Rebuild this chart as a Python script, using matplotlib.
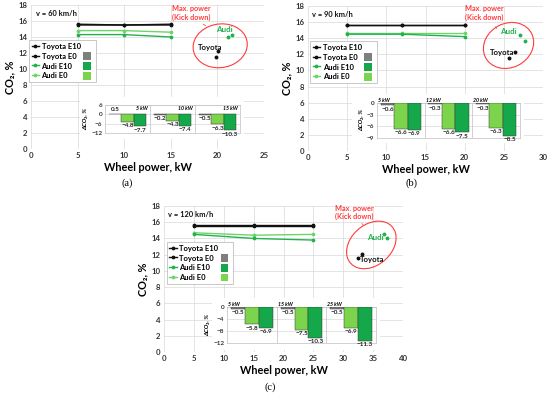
import matplotlib
matplotlib.use("Agg")
import matplotlib.pyplot as plt
from matplotlib.lines import Line2D
from matplotlib.patches import Ellipse, Patch, Rectangle

plt.rcParams["font.family"] = ["Lato", "DejaVu Sans"]

BLACK = "#111111"
GRAY_BAR = "#7F7F7F"
GREEN_E10 = "#14A84A"
GREEN_E0 = "#7CD44C"
LINE_E10 = "#22B24C"
LINE_E0 = "#6FD36A"
RED = "#FF3B3B"
GRID = "#D9D9D9"
TICK = "#333333"

# ---- panel (a): v = 60 km/h ----
A_POWER = [5, 10, 15]
A_TOYOTA_E10 = [15.5, 15.5, 15.6]
A_TOYOTA_E0 = [15.6, 15.5, 15.5]
A_AUDI_E10 = [14.3, 14.3, 14.0]
A_AUDI_E0 = [14.8, 14.8, 14.6]
A_MAX_TOYOTA_X = [20.1, 19.8]
A_MAX_TOYOTA_Y = [12.2, 11.5]
A_MAX_AUDI_X = [21.1, 21.6]
A_MAX_AUDI_Y = [14.0, 14.3]
A_GROUPS = ["5 kW", "10 kW", "15 kW"]
A_D_TOYOTA = [0.5, -0.2, -0.5]
A_D_AUDI_E0 = [-4.8, -4.3, -6.3]
A_D_AUDI_E10 = [-7.7, -7.4, -10.3]

# ---- panel (b): v = 90 km/h ----
B_POWER = [5, 12, 20]
B_TOYOTA_E10 = [15.6, 15.6, 15.6]
B_TOYOTA_E0 = [15.6, 15.6, 15.6]
B_AUDI_E10 = [14.5, 14.5, 14.2]
B_AUDI_E0 = [14.6, 14.6, 14.6]
B_MAX_TOYOTA_X = [26.4, 25.7]
B_MAX_TOYOTA_Y = [12.3, 11.6]
B_MAX_AUDI_X = [27.0, 27.7]
B_MAX_AUDI_Y = [14.4, 13.6]
B_GROUPS = ["5 kW", "12 kW", "20 kW"]
B_D_TOYOTA = [-0.6, -0.3, -0.3]
B_D_AUDI_E0 = [-6.6, -6.6, -6.3]
B_D_AUDI_E10 = [-6.9, -7.5, -8.5]

# ---- panel (c): v = 120 km/h ----
C_POWER = [5, 15, 25]
C_TOYOTA_E10 = [15.5, 15.5, 15.5]
C_TOYOTA_E0 = [15.6, 15.6, 15.6]
C_AUDI_E10 = [14.5, 14.0, 13.8]
C_AUDI_E0 = [14.7, 14.4, 14.5]
C_MAX_TOYOTA_X = [33.2, 32.4]
C_MAX_TOYOTA_Y = [12.1, 11.6]
C_MAX_AUDI_X = [36.9, 37.3]
C_MAX_AUDI_Y = [14.6, 14.1]
C_GROUPS = ["5 kW", "15 kW", "25 kW"]
C_D_TOYOTA = [-0.5, -0.5, -0.5]
C_D_AUDI_E0 = [-5.8, -7.5, -6.9]
C_D_AUDI_E10 = [-6.9, -10.3, -11.3]


def px(fig, x0, y0, x1, y1):
    """pixel box (top-left origin) -> figure fraction rect"""
    W, H = fig.get_size_inches() * fig.dpi
    return [x0 / W, 1 - y1 / H, (x1 - x0) / W, (y1 - y0) / H]


def main_panel(fig, box, p):
    ax = fig.add_axes(px(fig, *box))
    ax.set_xlim(0, p["xmax"])
    ax.set_ylim(0, 18)
    ax.set_xticks(range(0, p["xmax"] + 1, 5))
    ax.set_yticks(range(0, 19, 2))
    ax.grid(True, color=GRID, lw=0.5)
    ax.set_axisbelow(True)
    for s in ax.spines.values():
        s.set_visible(False)
    ax.tick_params(length=0, pad=2.5, labelsize=5.6, labelcolor=TICK)
    for lab in ax.get_xticklabels() + ax.get_yticklabels():
        lab.set_fontweight("bold")
    ax.set_xlabel("Wheel power, kW", fontsize=7.8, fontweight="bold", labelpad=2)
    ax.set_ylabel("CO₂, %", fontsize=7.8, fontweight="bold", labelpad=2)

    kw = dict(marker="o", ms=1.7, lw=1.0)
    ax.plot(p["power"], p["te10"], color=BLACK, **kw)
    ax.plot(p["power"], p["te0"], color=BLACK, **kw)
    ax.plot(p["power"], p["ae0"], color=LINE_E0, **kw)
    ax.plot(p["power"], p["ae10"], color=LINE_E10, **kw)

    ax.plot(p["mtx"], p["mty"], "o", color=BLACK, ms=1.8, ls="none")
    ax.plot(p["max"], p["may"], "o", color=LINE_E10, ms=1.8, ls="none")
    ax.add_patch(Ellipse(p["ell_c"], p["ell_w"], p["ell_h"], angle=p["ell_a"],
                         fill=False, edgecolor=RED, lw=0.8))
    ax.text(*p["max_txt"], "Max. power\n(Kick down)", color=RED, fontsize=5.2,
            fontweight="bold", ha="center", va="center", linespacing=1.25)
    ax.annotate("", xy=p["link"][1], xytext=p["link"][0],
                arrowprops=dict(arrowstyle="-", color=RED, lw=0.5))
    ax.text(*p["audi_txt"], "Audi", color=LINE_E10, fontsize=5.8,
            fontweight="bold", ha="center", va="center")
    ax.text(*p["toyota_txt"], "Toyota", color=BLACK, fontsize=5.6,
            fontweight="bold", ha="center", va="center")
    ax.text(p["speed_x"], 16.9, p["speed"], fontsize=5.4, fontweight="bold",
            ha="left", va="center", color=BLACK)

    lkw = dict(marker="o", ms=1.7, lw=1.0)
    blank = Patch(facecolor="none", edgecolor="none")
    handles = [Line2D([], [], color=BLACK, **lkw),
               Line2D([], [], color=BLACK, **lkw),
               Line2D([], [], color=LINE_E10, **lkw),
               Line2D([], [], color=LINE_E0, **lkw),
               blank,
               Patch(facecolor=GRAY_BAR, edgecolor="none"),
               Patch(facecolor=GREEN_E10, edgecolor="none"),
               Patch(facecolor=GREEN_E0, edgecolor="none")]
    labels = ["Toyota E10", "Toyota E0", "Audi E10", "Audi E0", "", "", "", ""]
    leg = ax.legend(handles, labels, ncol=2, loc="upper left",
                    bbox_to_anchor=p["leg_anchor"],
                    prop=dict(weight="bold", size=5.5), handlelength=1.0,
                    handleheight=1.2, handletextpad=0.3, columnspacing=0.3,
                    labelspacing=0.25, borderpad=0.35, borderaxespad=0,
                    fancybox=False, framealpha=1)
    leg.get_frame().set_edgecolor("#BFBFBF")
    leg.get_frame().set_linewidth(0.6)
    return ax


def inset_panel(fig, box, back, p):
    fig.add_artist(Rectangle(px(fig, *back)[:2], *px(fig, *back)[2:],
                             transform=fig.transFigure, facecolor="white",
                             edgecolor="none", zorder=1))
    ax = fig.add_axes(px(fig, *box))
    ax.set_zorder(2)
    x = range(len(p["groups"]))
    w = 0.28
    bkw = dict(width=w, edgecolor="#3A3A3A", lw=0.35, zorder=3)
    ax.bar([i - w for i in x], p["dt"], color=GRAY_BAR, **bkw)
    ax.bar(list(x), p["de0"], color=GREEN_E0, **bkw)
    ax.bar([i + w for i in x], p["de10"], color=GREEN_E10, **bkw)
    ax.set_xlim(-0.5, len(p["groups"]) - 0.5)
    ax.set_ylim(*p["ylim"])
    ax.set_yticks(p["yticks"])
    ax.set_xticks([])
    ax.yaxis.grid(True, color=GRID, lw=0.5)
    ax.set_axisbelow(True)
    for s in ax.spines.values():
        s.set_color("#BFBFBF")
        s.set_linewidth(0.5)
    for b in [0.5, 1.5]:
        ax.axvline(b, color="#BFBFBF", lw=0.5, zorder=2)
    ax.tick_params(length=0, pad=2, labelsize=4.6, labelcolor=TICK)
    for lab in ax.get_yticklabels():
        lab.set_fontweight("bold")
    ax.set_ylabel("ΔCO₂, %", fontsize=4.4, fontstyle="italic",
                  fontweight="bold", labelpad=2)

    for vals, off in [(p["dt"], -w), (p["de0"], 0), (p["de10"], w)]:
        for i, v in zip(x, vals):
            ax.annotate(f"{v:g}".replace("-", "−"), (i + off, v),
                        xytext=(0, 1 if v >= 0 else -1),
                        textcoords="offset points", ha="center",
                        va="bottom" if v >= 0 else "top", fontsize=4.6,
                        fontweight="bold", color="#222222", zorder=4)
    for i, g in zip(x, p["groups"]):
        if p["glab_inside"]:
            ax.text(i + 0.45, p["ylim"][1] - 0.6, g, fontsize=3.8,
                    fontstyle="italic", fontweight="bold", ha="right", va="top")
        else:
            ax.text(i - 0.48, p["ylim"][1], g, fontsize=3.8,
                    fontstyle="italic", fontweight="bold", ha="left",
                    va="bottom")
    return ax


fig = plt.figure(figsize=(5.5, 3.94), dpi=100)

pa = dict(xmax=25, power=A_POWER, te10=A_TOYOTA_E10, te0=A_TOYOTA_E0,
          ae10=A_AUDI_E10, ae0=A_AUDI_E0, mtx=A_MAX_TOYOTA_X,
          mty=A_MAX_TOYOTA_Y, max=A_MAX_AUDI_X, may=A_MAX_AUDI_Y,
          ell_c=(20.3, 12.9), ell_w=5.9, ell_h=5.4, ell_a=25,
          max_txt=(17.2, 17.0), link=((18.2, 15.8), (19.0, 15.25)),
          audi_txt=(20.7, 15.0), toyota_txt=(19.2, 12.75),
          speed="v = 60 km/h", speed_x=0.5, leg_anchor=(-0.009, 0.757))
pb = dict(xmax=30, power=B_POWER, te10=B_TOYOTA_E10, te0=B_TOYOTA_E0,
          ae10=B_AUDI_E10, ae0=B_AUDI_E0, mtx=B_MAX_TOYOTA_X,
          mty=B_MAX_TOYOTA_Y, max=B_MAX_AUDI_X, may=B_MAX_AUDI_Y,
          ell_c=(25.6, 13.1), ell_w=6.6, ell_h=5.5, ell_a=25,
          max_txt=(22.5, 17.1), link=((23.7, 15.7), (24.1, 15.2)),
          audi_txt=(25.6, 14.8), toyota_txt=(24.8, 12.2),
          speed="v = 90 km/h", speed_x=0.5, leg_anchor=(0.0085, 0.759))
pc = dict(xmax=40, power=C_POWER, te10=C_TOYOTA_E10, te0=C_TOYOTA_E0,
          ae10=C_AUDI_E10, ae0=C_AUDI_E0, mtx=C_MAX_TOYOTA_X,
          mty=C_MAX_TOYOTA_Y, max=C_MAX_AUDI_X, may=C_MAX_AUDI_Y,
          ell_c=(34.7, 13.2), ell_w=8.6, ell_h=5.4, ell_a=20,
          max_txt=(31.8, 17.2), link=((32.8, 16.1), (33.4, 15.6)),
          audi_txt=(35.3, 14.1), toyota_txt=(34.9, 11.4),
          speed="v = 120 km/h", speed_x=0.6, leg_anchor=(0.011, 0.755))

main_panel(fig, (31, 5, 264, 149), pa)
main_panel(fig, (308, 6, 543, 151), pb)
main_panel(fig, (164, 206, 403, 352), pc)

inset_panel(fig, (105, 105, 240, 133), (80, 97, 244, 139),
            dict(groups=A_GROUPS, dt=A_D_TOYOTA, de0=A_D_AUDI_E0,
                 de10=A_D_AUDI_E10, ylim=(-12, 6), yticks=[6, 0, -6, -12],
                 glab_inside=True))
inset_panel(fig, (377, 103, 520, 138), (352, 94, 524, 143),
            dict(groups=B_GROUPS, dt=B_D_TOYOTA, de0=B_D_AUDI_E0,
                 de10=B_D_AUDI_E10, ylim=(-9, 0), yticks=[0, -3, -6, -9],
                 glab_inside=False))
inset_panel(fig, (227, 307, 376, 343), (212, 298, 380, 350),
            dict(groups=C_GROUPS, dt=C_D_TOYOTA, de0=C_D_AUDI_E0,
                 de10=C_D_AUDI_E10, ylim=(-12, 0), yticks=[0, -4, -8, -12],
                 glab_inside=False))

for lab, (x, y) in [("(a)", (127.5, 183)), ("(b)", (411.7, 183)),
                    ("(c)", (270, 387))]:
    fig.text(x / 550, 1 - y / 394, lab, family="Liberation Serif",
             fontsize=7.5, ha="center", va="center")

fig.savefig("out.png", dpi=100)
